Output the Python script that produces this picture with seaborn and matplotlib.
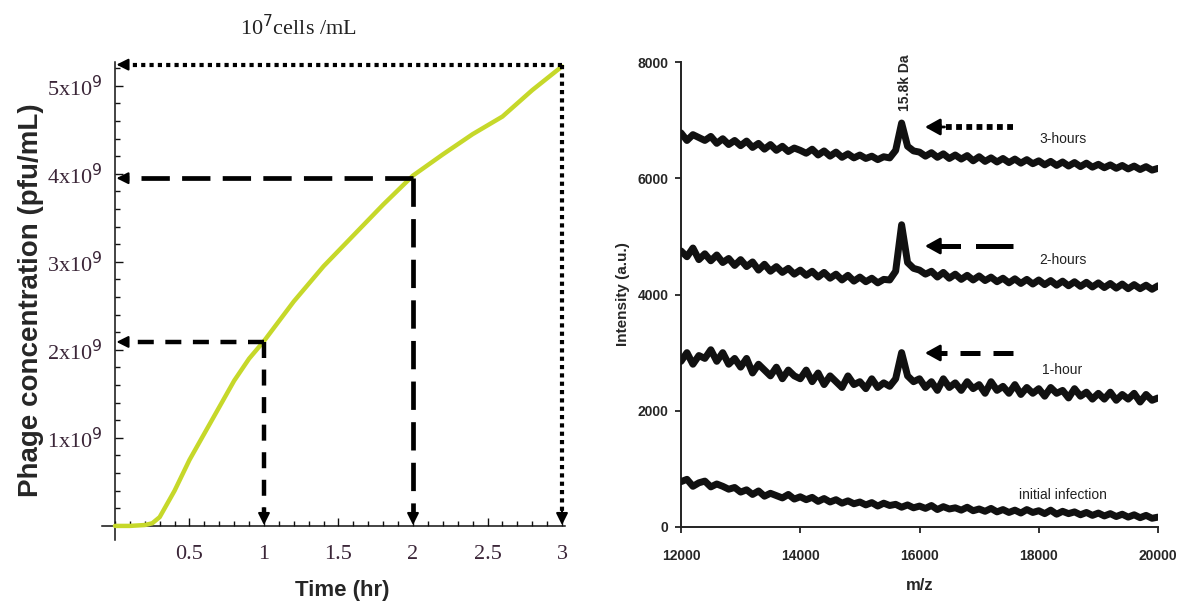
import numpy as np
import pandas as pd
import matplotlib
matplotlib.use("Agg")
import matplotlib.pyplot as plt
import seaborn as sns

# ---------------- data ----------------
# left panel: phage growth curve (x10^9 pfu/mL)
time_hr = [0.0, 0.1, 0.2, 0.25, 0.3, 0.4, 0.5, 0.6, 0.7, 0.8, 0.9, 1.0,
           1.2, 1.4, 1.6, 1.8, 2.0, 2.2, 2.4, 2.6, 2.8, 3.0]
phage_conc = [0.0, 0.0, 0.01, 0.03, 0.1, 0.4, 0.75, 1.05, 1.35, 1.65, 1.9, 2.1,
              2.55, 2.95, 3.3, 3.65, 3.98, 4.22, 4.45, 4.65, 4.95, 5.22]
mark_times = [1, 2, 3]
mark_conc = [2.09, 3.95, 5.24]
x_ticks_left = [0.5, 1, 1.5, 2, 2.5, 3]
x_ticklabels_left = ["0.5", "1", "1.5", "2", "2.5", "3"]
y_ticks_left = [1, 2, 3, 4, 5]
y_ticklabels_left = [r"1x10$^9$", r"2x10$^9$", r"3x10$^9$", r"4x10$^9$", r"5x10$^9$"]

# right panel: mass spectra
mz = list(range(12000, 20001, 100))
initial_infection = [
    780, 820, 700, 760, 790, 690, 740, 700, 650, 680,
    600, 640, 560, 620, 530, 580, 540, 500, 560, 480,
    520, 470, 510, 440, 490, 430, 470, 410, 450, 400,
    430, 380, 420, 360, 410, 370, 390, 340, 380, 330,
    360, 320, 370, 300, 350, 310, 330, 290, 340, 280,
    310, 270, 320, 260, 300, 250, 290, 240, 300, 250,
    280, 230, 290, 220, 270, 230, 260, 210, 250, 200,
    240, 190, 230, 180, 220, 170, 210, 160, 200, 150,
    170]
one_hour = [
    2850, 3000, 2800, 2950, 2900, 3050, 2850, 3000, 2800, 2900,
    2750, 2900, 2650, 2800, 2700, 2600, 2750, 2550, 2700, 2600,
    2550, 2700, 2500, 2650, 2450, 2600, 2500, 2400, 2600, 2450,
    2500, 2380, 2550, 2400, 2480, 2420, 2550, 3000, 2600, 2500,
    2550, 2400, 2500, 2350, 2550, 2400, 2480, 2350, 2500, 2380,
    2450, 2300, 2500, 2350, 2420, 2300, 2450, 2280, 2400, 2300,
    2380, 2250, 2400, 2300, 2350, 2220, 2380, 2250, 2320, 2200,
    2300, 2200, 2320, 2180, 2280, 2200, 2300, 2150, 2280, 2180,
    2220]
two_hours = [
    4750, 4650, 4800, 4600, 4700, 4580, 4680, 4550, 4620, 4500,
    4600, 4480, 4560, 4420, 4520, 4400, 4480, 4380, 4450, 4350,
    4420, 4330, 4400, 4300, 4380, 4280, 4350, 4250, 4330, 4230,
    4300, 4220, 4280, 4200, 4260, 4250, 4400, 5200, 4550, 4450,
    4420, 4350, 4400, 4300, 4380, 4280, 4350, 4260, 4330, 4250,
    4320, 4240, 4300, 4220, 4280, 4200, 4270, 4190, 4260, 4180,
    4250, 4170, 4240, 4160, 4230, 4150, 4220, 4140, 4210, 4130,
    4200, 4120, 4190, 4110, 4180, 4100, 4170, 4100, 4160, 4090,
    4150]
three_hours = [
    6780, 6650, 6750, 6700, 6650, 6720, 6600, 6680, 6580, 6650,
    6560, 6640, 6530, 6600, 6500, 6580, 6480, 6550, 6460, 6520,
    6480, 6430, 6500, 6400, 6470, 6380, 6450, 6360, 6420, 6350,
    6400, 6340, 6380, 6320, 6370, 6350, 6480, 6950, 6550, 6470,
    6450, 6380, 6440, 6360, 6420, 6340, 6400, 6330, 6390, 6300,
    6370, 6290, 6350, 6280, 6340, 6270, 6330, 6260, 6320, 6250,
    6300, 6230, 6290, 6220, 6280, 6210, 6270, 6200, 6260, 6190,
    6240, 6180, 6230, 6170, 6220, 6160, 6210, 6150, 6200, 6140,
    6170]
trace_names = ["initial infection", "1-hour", "2-hours", "3-hours"]
trace_label_y = [550, 2700, 4600, 6670]
arrow_y = [2994, 4834, 6882]       # 1-hour, 2-hours, 3-hours
peak_label = "15.8k Da"
peak_mz = 15730

# ---------------- style ----------------
sns.set_style("white")
plt.rcParams["font.family"] = ["Liberation Sans", "DejaVu Sans"]

W, H = 1182, 610
fig = plt.figure(figsize=(W / 100, H / 100), dpi=100)
green = "#c6d82a"

# ---------------- left panel ----------------
ax1 = fig.add_axes([102 / W, 1 - 540 / H, 463 / W, 478 / H])
sns.lineplot(x=time_hr, y=phage_conc, ax=ax1, color=green, lw=3.2,
             sort=False, zorder=3)
ax1.set_xlim(-0.087, 3.02)
ax1.set_ylim(-0.16, 5.27)
for s in ["top", "right"]:
    ax1.spines[s].set_visible(False)
for s in ["left", "bottom"]:
    ax1.spines[s].set_position(("data", 0))
    ax1.spines[s].set_color("#111111")
    ax1.spines[s].set_linewidth(1.1)
ax1.set_xticks(x_ticks_left)
ax1.set_xticklabels(x_ticklabels_left)
ax1.set_yticks(y_ticks_left)
ax1.set_yticklabels(y_ticklabels_left)
ax1.xaxis.set_minor_locator(matplotlib.ticker.MultipleLocator(0.1))
ax1.yaxis.set_minor_locator(matplotlib.ticker.MultipleLocator(0.2))
ax1.tick_params(which="both", direction="in", color="#111111", width=1,
                bottom=True, left=True)
ax1.tick_params(which="major", length=6)
ax1.tick_params(which="minor", length=3.5)
ax1.tick_params(axis="x", which="major", pad=14)
ax1.tick_params(axis="y", which="major", pad=9)
for lab in ax1.get_xticklabels() + ax1.get_yticklabels():
    lab.set_family(["Liberation Serif", "DejaVu Serif"])
    lab.set_fontsize(16)
    lab.set_color("#3b2638")

ax1.set_xlabel("Time (hr)", fontsize=16, fontweight="bold")
ax1.xaxis.set_label_coords((342 - 102) / 463, (540 - 580) / 478)
ax1.set_ylabel("Phage concentration (pfu/mL)", fontsize=20, fontweight="bold")
ax1.yaxis.set_label_coords((44 - 102) / 463, (540 - 300) / 478)

line_styles = [
    dict(lw=3.2, dashes=(3.6, 2.6)),   # 1 h
    dict(lw=3.4, dashes=(6.0, 2.6)),   # 2 h
    dict(lw=3.0, dashes=(1.0, 1.0)),   # 3 h
]
head = dict(arrowstyle="-|>,head_length=0.7,head_width=0.35", color="k",
            lw=1.5, shrinkA=0, shrinkB=0)
for t, c, st in zip(mark_times, mark_conc, line_styles):
    ax1.plot([t, 0.07], [c, c], color="k", solid_capstyle="butt",
             dash_capstyle="butt", **st, zorder=4)
    ax1.plot([t, t], [c, 0.12], color="k", solid_capstyle="butt",
             dash_capstyle="butt", **st, zorder=4)
    ax1.annotate("", xy=(0.01, c), xytext=(0.08, c), arrowprops=head, zorder=5)
    ax1.annotate("", xy=(t, 0.01), xytext=(t, 0.2), arrowprops=head, zorder=5)

fig.text(298 / W, 1 - 28 / H, r"10$^7$cells /mL", ha="center", va="center",
         fontsize=16, family=["Liberation Serif", "DejaVu Serif"], color="#222222")

# ---------------- right panel ----------------
ax2 = fig.add_axes([681 / W, 1 - 527 / H, 477 / W, 465 / H])
for vals in [initial_infection, one_hour, two_hours, three_hours]:
    sns.lineplot(x=mz, y=vals, ax=ax2, color="#111111", lw=5.0, zorder=3)
ax2.set_xlim(12000, 20000)
ax2.set_ylim(0, 8000)
sns.despine(ax=ax2)
for s in ["left", "bottom"]:
    ax2.spines[s].set_color("#222222")
    ax2.spines[s].set_linewidth(1.4)
ax2.set_xticks([12000, 14000, 16000, 18000, 20000])
ax2.set_yticks([0, 2000, 4000, 6000, 8000])
ax2.tick_params(direction="out", length=4, width=1.3, color="#222222",
                labelsize=10, pad=5, bottom=True, left=True)
for lab in ax2.get_xticklabels() + ax2.get_yticklabels():
    lab.set_fontweight("bold")
ax2.tick_params(axis="x", pad=12)
ax2.set_xlabel("m/z", fontsize=12, fontweight="bold")
ax2.xaxis.set_label_coords(0.5, (527 - 578) / 465)
ax2.set_ylabel("Intensity (a.u.)", fontsize=11, fontweight="bold")
ax2.yaxis.set_label_coords((630 - 681) / 477, 0.5)

for name, y in zip(trace_names, trace_label_y):
    ax2.text(18400, y, name, ha="center", va="center", fontsize=10,
             color="#222222")

ax2.text(peak_mz + 20, 7640, peak_label, rotation=90, ha="center",
         va="center", fontsize=10, fontweight="bold")

arrow_styles = [
    dict(lw=3.6, dashes=(4.0, 2.6)),   # 1-hour
    dict(lw=3.6, dashes=(7.5, 3.0)),   # 2-hours
    dict(lw=4.2, dashes=(1.0, 0.75)),  # 3-hours
]
ahead = dict(arrowstyle="-|>,head_length=0.9,head_width=0.5", color="k",
             lw=2, shrinkA=0, shrinkB=0)
for y, st in zip(arrow_y, arrow_styles):
    ax2.plot([17568, 16330], [y, y], color="k", dash_capstyle="butt", **st)
    ax2.annotate("", xy=(16092, y), xytext=(16420, y), arrowprops=ahead)

fig.savefig("out.png", dpi=100)
